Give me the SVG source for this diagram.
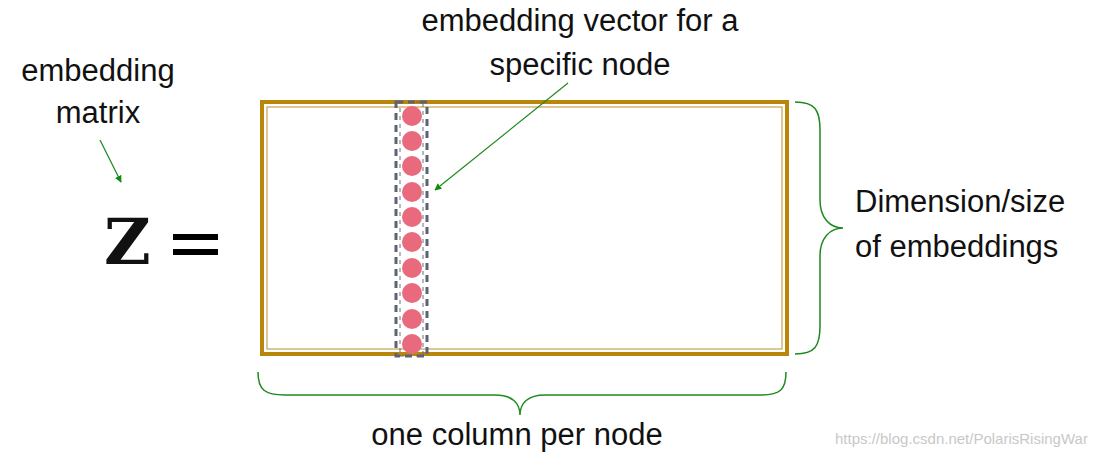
<svg xmlns="http://www.w3.org/2000/svg" width="1113" height="459" viewBox="0 0 1113 459">
<style>
text{font-family:"Liberation Sans",Arial,sans-serif;fill:#111;font-size:31px}
.brace{fill:none;stroke:#1e8a1e;stroke-width:1.5}
.dash{fill:none;stroke:#5d6375;stroke-width:3;stroke-dasharray:7,5}
.dot{fill:#e86a7c}
.arr{stroke:#1e8a1e;stroke-width:1.2;marker-end:url(#ah)}
</style>
<defs><marker id="ah" viewBox="0 0 10 10" refX="9" refY="5" markerWidth="7" markerHeight="7" orient="auto-start-reverse" markerUnits="userSpaceOnUse"><path d="M0,0L10,5L0,10z" fill="#108a10"/></marker></defs>
<rect width="1113" height="459" fill="#fff"/>
<g id="label-matrix"><text x="98" y="81" text-anchor="middle">embedding</text><text x="98" y="123" text-anchor="middle">matrix</text></g>
<g id="z-eq"><text x="104" y="264" style="font-family:'DejaVu Serif',serif;font-weight:bold;font-size:64px">Z</text>
<rect x="173" y="234" width="45" height="6" fill="#000"/><rect x="173" y="249" width="45" height="6" fill="#000"/></g>
<g id="matrix">
<rect x="262" y="102" width="525" height="252" fill="none" stroke="#b8860b" stroke-width="4"/>
<rect x="267" y="107" width="515" height="242" fill="none" stroke="#c9a050" stroke-width="1.2"/>
</g>
<g id="column">
<rect x="396" y="102" width="31" height="254" class="dash"/>
<rect x="400" y="102" width="23" height="254" fill="none" stroke="#5d6375" stroke-width="1.5" stroke-dasharray="4,4" opacity="0.6"/>
<circle class="dot" cx="412" cy="116" r="10"/><circle class="dot" cx="412" cy="141" r="10"/><circle class="dot" cx="412" cy="166" r="10"/><circle class="dot" cx="412" cy="192" r="10"/><circle class="dot" cx="412" cy="217" r="10"/><circle class="dot" cx="412" cy="242" r="10"/><circle class="dot" cx="412" cy="268" r="10"/><circle class="dot" cx="412" cy="293" r="10"/><circle class="dot" cx="412" cy="319" r="10"/><circle class="dot" cx="412" cy="344" r="10"/>
</g>
<g id="label-vector"><text x="580" y="31" text-anchor="middle">embedding vector for a</text><text x="580" y="75" text-anchor="middle">specific node</text></g>
<g id="label-dim"><text x="855" y="212">Dimension/size</text><text x="855" y="257">of embeddings</text></g>
<g id="label-col"><text x="517" y="445" text-anchor="middle">one column per node</text></g>
<g id="connectors">
<line class="arr" x1="100" y1="140" x2="121" y2="182"/>
<line class="arr" x1="568" y1="83" x2="435" y2="190"/>
<path class="brace" d="M795,102 C815,102 820,110 820,130 L820,200 C820,218 830,228 843,228 C830,228 820,238 820,256 L820,326 C820,346 815,354 795,354"/>
<path class="brace" d="M258,372 C258,390 265,395 285,395 L495,395 C512,395 520,403 520,415 C520,403 528,395 545,395 L760,395 C780,395 786,390 786,372"/>
</g>
<text x="835" y="444" style="font-size:15px;fill:#c8c8c8">https://blog.csdn.net/PolarisRisingWar</text>
</svg>
